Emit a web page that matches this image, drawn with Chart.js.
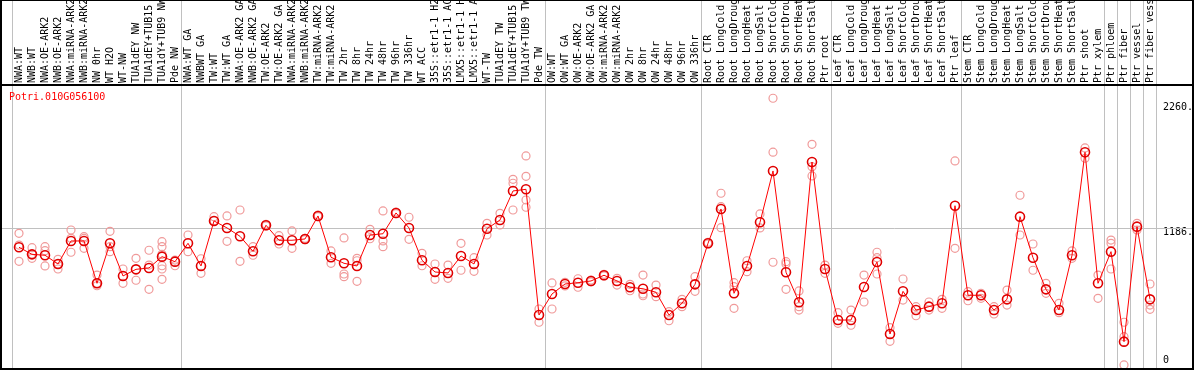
<!DOCTYPE html>
<html>
<head>
<meta charset="utf-8">
<script src="https://cdn.jsdelivr.net/npm/chart.js@4.4.0/dist/chart.umd.min.js"></script>
<style>
  html, body { margin: 0; padding: 0; background: #fff; overflow: hidden; }
</style>
</head>
<body>
<canvas id="grafico" width="1194" height="370"></canvas>
<script>
const gene = "Potri.010G056100";

//campioni (etichette tagliate a 14 caratteri come nell'originale)
const campioni = ["NWA:WT", "NWB:WT", "NWA:OE-ARK2", "NWB:OE-ARK2", "NWA:miRNA-ARK2", "NWB:miRNA-ARK2", "NW 0hr", "WT H2O", "WT-NW", "TUA1dEY NW", "TUA1dEY+TUB15", "TUA1dY+TUB9 NW", "Pde NW",
  "NWA:WT GA", "NWBWT GA", "TW:WT", "TW:WT GA", "NWA:OE-ARK2 GA", "NWB:OE-ARK2 GA", "TW:OE-ARK2", "TW:OE-ARK2 GA", "NWA:miRNA-ARK2", "NWB:miRNA-ARK2", "TW:miRNA-ARK2", "TW:miRNA-ARK2",
  "TW 2hr", "TW 8hr", "TW 24hr", "TW 48hr", "TW 96hr", "TW 336hr", "WT ACC", "35S::etr1-1 H2", "35S::etr1-1 AC", "LMX5::etr1-1 H", "LMX5::etr1-1 A", "WT-TW", "TUA1dEY TW", "TUA1dEY+TUB15", "TUA1dY+TUB9 TW", "Pde TW",
  "OW:WT", "OW:WT GA", "OW:OE-ARK2", "OW:OE-ARK2 GA", "OW:miRNA-ARK2", "OW:miRNA-ARK2", "OW 2hr", "OW 8hr", "OW 24hr", "OW 48hr", "OW 96hr", "OW 336hr",
  "Root CTR", "Root LongCold", "Root LongDroug", "Root LongHeat", "Root LongSalt", "Root ShortCold", "Root ShortDrou", "Root ShortHeat", "Root ShortSalt", "Ptr root",
  "Leaf CTR", "Leaf LongCold", "Leaf LongDroug", "Leaf LongHeat", "Leaf LongSalt", "Leaf ShortCold", "Leaf ShortDrou", "Leaf ShortHeat", "Leaf ShortSalt", "Ptr leaf",
  "Stem CTR", "Stem LongCold", "Stem LongDroug", "Stem LongHeat", "Stem LongSalt", "Stem ShortCold", "Stem ShortDrou", "Stem ShortHeat", "Stem ShortSalt", "Ptr shoot",
  "Ptr xylem", "Ptr phloem", "Ptr fiber", "Ptr vessel", "Ptr fiber vess"];

//valori medi
const medie = [1017, 956, 948, 873, 1071, 1071, 707, 1051, 770, 827, 839, 936, 893,
  1051, 856, 1243, 1183, 1111, 982, 1206, 1077, 1077, 1088, 1286,
  931, 879, 856, 1122, 1133, 1312, 1183, 905, 804, 796, 942, 873, 1176, 1251, 1501, 1515, 434,
  615, 701, 712, 727, 776, 727, 673, 660, 630, 434, 535, 698,
  1051, 1346, 621, 856, 1232, 1673, 802, 544, 1750, 830,
  391, 391, 675, 890, 271, 638, 477, 506, 535, 1374,
  604, 604, 477, 569, 1280, 927, 655, 477, 948, 1834,
  707, 979, 205, 1194, 569];

//repliche
const repliche = [[1137, 1036, 896], [1013, 959, 922], [1022, 987, 856], [913, 873, 830], [1165, 1094, 974], [1108, 1094, 1008], [778, 707, 686], [1154, 1022, 979], [830, 707], [922, 733], [991, 864, 655], [1065, 1022, 956, 858, 830, 741], [907, 858],
  [1122, 979], [918, 793], [1280, 1245], [1286, 1068], [1337, 896], [1022, 948], [1214, 1200], [1116, 1045], [1157, 1008], [1094, 1082], [1294, 1280],
  [985, 879], [1097, 787, 764], [922, 901, 724], [1171, 1090], [1329, 1071, 1022], [1320, 1305], [1275, 1085], [965, 858], [873, 741], [864, 750], [1051, 819], [927, 810], [1223, 1122], [1309, 1208], [1601, 1567, 1337], [1802, 1627, 1423, 1361], [486, 372],
  [710, 486], [684, 715], [746, 673], [735, 720], [784, 770], [750, 692], [698, 643], [778, 615, 600], [692, 592], [463, 385], [569, 506], [764, 638],
  [1060, 1045], [1481, 1366, 1185], [712, 678, 492], [901, 807], [1303, 1183], [2298, 1834, 888], [893, 873, 655], [641, 506, 477], [1902, 1710, 1630], [864, 793],
  [454, 363], [477, 346], [778, 546], [974, 927, 787], [325, 208], [744, 563], [506, 428], [546, 477], [569, 492], [1759, 1008],
  [635, 557], [621, 578], [506, 443], [649, 520], [1464, 1122], [1045, 819], [707, 621], [535, 454], [985, 922], [1871, 1782],
  [778, 578], [1079, 1051, 830], [372, 248, 5], [1223, 1165], [701, 520, 483]];

//separatori tra i gruppi (indice della riga di griglia)
const gruppi = [0, 13, 41, 53, 63, 73, 84, 85, 86, 87, 88];

//asse y
const yTicks = [0, 1186, 2260];
const yEtichette = ["0", "1186.", "2260."];
const yGriglia = [1186];

const grigio = '#c0c0c0';
const mono = 'DejaVu Sans Mono';

//un dataset per ogni replica (null dove manca)
let maxRep = Math.max(...repliche.map(r => r.length));
let datiRep = [];
for (let k = 0; k < maxRep; k++) {
  datiRep.push({
    label: 'replica ' + (k + 1),
    data: repliche.map(r => r[k] === undefined ? null : r[k]),
    showLine: false,
    pointRadius: 4,
    pointBorderWidth: 1.2,
    pointBorderColor: '#f09a9a',
    pointBackgroundColor: 'rgba(0,0,0,0)',
    clip: 6,
    order: 2
  });
}

//cornice nera, riga orizzontale e nome del gene
const cornice = {
  id: 'cornice',
  beforeDatasetsDraw(chart) {
    const ctx = chart.ctx;
    const y = chart.scales.y;
    ctx.save();
    ctx.strokeStyle = grigio;
    ctx.lineWidth = 1;
    yGriglia.forEach(v => {
      const py = Math.round(y.getPixelForValue(v)) + 0.5;
      ctx.beginPath();
      ctx.moveTo(1, py);
      ctx.lineTo(chart.width - 2, py);
      ctx.stroke();
    });
    ctx.restore();
  },
  afterDraw(chart) {
    const ctx = chart.ctx;
    const w = chart.width, h = chart.height, top = chart.chartArea.top;
    ctx.save();
    ctx.fillStyle = '#000';
    ctx.fillRect(0, 0, 2, h);
    ctx.fillRect(w - 2, 0, 2, h);
    ctx.fillRect(0, h - 2, w, 2);
    ctx.fillRect(0, 0, w, 1);
    ctx.fillRect(0, top - 1, w, 2);
    ctx.fillStyle = '#ff0000';
    ctx.font = '10px "' + mono + '"';
    ctx.textBaseline = 'middle';
    ctx.fillText(gene, 9, top + 12);
    ctx.restore();
  }
};

let g = document.getElementById('grafico');

new Chart(g, {
  type: 'line',
  data: {
    labels: campioni,
    datasets: [{
      label: 'media',
      data: medie,
      borderColor: '#ff0000',
      borderWidth: 1,
      pointRadius: 4.5,
      pointBorderWidth: 1.6,
      pointBorderColor: '#e00000',
      pointBackgroundColor: 'rgba(0,0,0,0)',
      tension: 0,
      clip: 6,
      order: 1
    }].concat(datiRep)
  },
  options: {
    responsive: false,
    animation: false,
    layout: { autoPadding: false, padding: { left: 12.5, right: 0, top: 0, bottom: 1 } },
    plugins: { legend: { display: false }, tooltip: { enabled: false } },
    scales: {
      x: {
        position: 'top',
        offset: true,
        afterFit: s => { s.height = 85; s.paddingLeft = 0; s.paddingRight = 0; },
        grid: {
          offset: true,
          tickLength: 85,
          lineWidth: 1,
          color: c => (c.index === undefined || gruppi.includes(c.index)) ? grigio : 'rgba(0,0,0,0)'
        },
        border: { display: false },
        ticks: {
          autoSkip: false,
          minRotation: 90,
          maxRotation: 90,
          padding: -83,
          labelOffset: 12,
          color: '#000',
          font: { family: mono, size: 10 }
        }
      },
      y: {
        position: 'right',
        min: -30,
        max: 2412,
        afterBuildTicks: s => { s.ticks = yTicks.map(v => ({ value: v })); },
        afterFit: s => { s.width = 37.5; s.paddingTop = 0; s.paddingBottom = 0; },
        grid: { display: false, drawTicks: false },
        border: { display: false },
        ticks: {
          padding: 6.5,
          color: '#000',
          font: { family: mono, size: 10, lineHeight: 1 },
          callback: v => {
            const t = yEtichette[yTicks.indexOf(v)];
            return v === 0 ? [t, ''] : ['', t];
          }
        }
      }
    }
  },
  plugins: [cornice]
});
</script>
</body>
</html>
